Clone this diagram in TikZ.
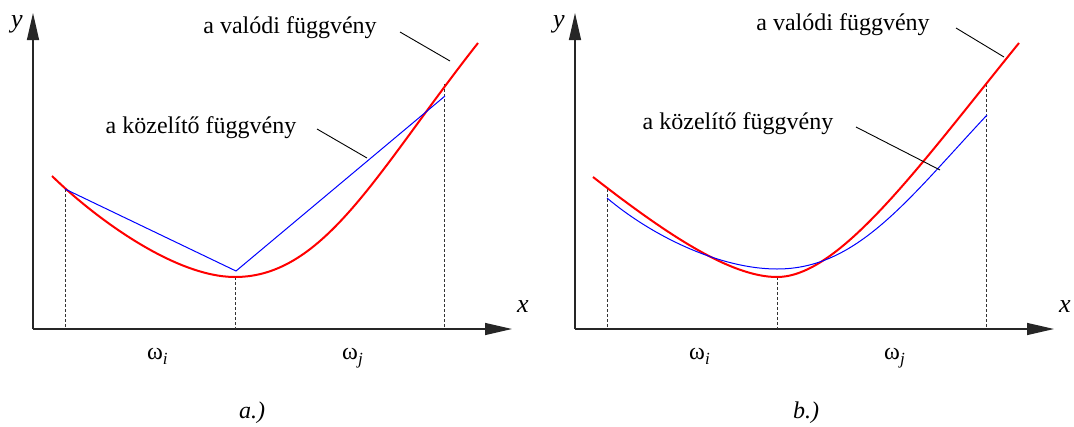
\documentclass[tikz,border=0pt]{standalone}
\usepackage{fontspec}
\setmainfont{Liberation Serif}
\usetikzlibrary{arrows.meta}
\tikzset{
  axis/.style={line width=1.3pt, black!85, -{Triangle[length=27pt,width=12pt]}},
  realf/.style={line width=2pt, red, line join=round},
  approx/.style={line width=1pt, blue},
  guide/.style={line width=0.9pt, black!80, dash pattern=on 3pt off 2pt},
  leader/.style={line width=0.9pt, black},
  lbl/.style={inner sep=0pt, anchor=base, font=\fontsize{24}{28}\selectfont},
  axl/.style={inner sep=0pt, anchor=base, font=\fontsize{26}{28}\selectfont\itshape},
}
\newcommand{\omsub}[1]{ω\raisebox{-5pt}{\fontsize{17}{17}\selectfont\itshape #1}}
\newcommand{\panel}[1]{%
  \coordinate (o#1) at (33,329);
  \coordinate (yt#1) at (33,13);
  \coordinate (xt#1) at (512,329);
  \draw[axis] (o#1) -- (yt#1);
  \draw[axis] (o#1) -- (xt#1);
  \node[axl] (ylab#1) at (17,27) {y};
  \node[axl] (xlab#1) at (523,312) {x};
  \draw[guide] (65,189) -- (65,329);
  \draw[guide] (235,277) -- (235,329);
  \draw[guide] (444,84) -- (444,329);
  \node[lbl, anchor=base west] (wi#1) at (147,359) {\omsub{i}};
  \node[lbl, anchor=base west] (wj#1) at (342,359) {\omsub{j}};
}
\begin{document}
\begin{tikzpicture}[x={(1pt,0)}, y={(0,-1pt)}]
\useasboundingbox (0,0) rectangle (1074,426);
\fill[white] (0,0) rectangle (1074,426);
% panel a
\begin{scope}
  \panel{a}
\end{scope}
\draw[realf] (52,176) .. controls (95,218) and (175,277) .. (235,277)
             .. controls (325,277) and (378,170) .. (478,43);
\draw[approx, line join=miter] (65,189) -- (236,271) -- (445,96);
\node[lbl] (va) at (290,33) {a valódi függvény};
\node[lbl] (ka) at (201,133) {a közelítő függvény};
\coordinate (va1) at (400,32);
\coordinate (va2) at (450,61);
\coordinate (ka1) at (317,129);
\coordinate (ka2) at (367,158);
\draw[leader] (va1) -- (va2);
\draw[leader] (ka1) -- (ka2);
\node[lbl, font=\fontsize{24}{28}\selectfont\itshape] (capa) at (252,418) {a.)};
% panel b
\begin{scope}[xshift=542pt]
  \panel{b}
\end{scope}
\draw[realf] (593,177) .. controls (665,233) and (730,277) .. (777,277)
             .. controls (840,277) and (920,165) .. (1019,43);
\draw[approx] (607,198) .. controls (652,236) and (720,269) .. (777,269)
              .. controls (857,269) and (907,200.6) .. (987,115);
\node[lbl] (vb) at (843,30) {a valódi függvény};
\node[lbl] (kb) at (738,129) {a közelítő függvény};
\coordinate (vb1) at (956,28);
\coordinate (vb2) at (1004,57);
\coordinate (kb1) at (856,127);
\coordinate (kb2) at (940,170);
\draw[leader] (vb1) -- (vb2);
\draw[leader] (kb1) -- (kb2);
\node[lbl, font=\fontsize{24}{28}\selectfont\itshape] (capb) at (806,418) {b.)};
\end{tikzpicture}
\end{document}
